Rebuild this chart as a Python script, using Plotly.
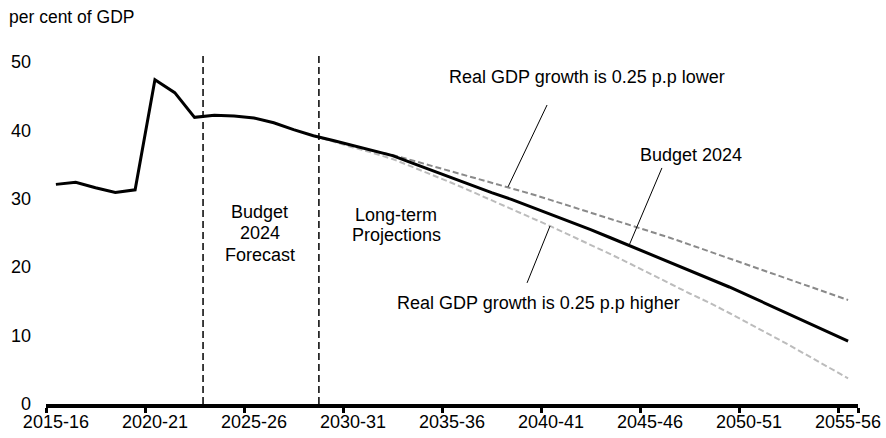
import numpy as np
import plotly.graph_objects as go

# Fiscal years 2015-16 .. 2055-56
years = [f"{y}-{str(y + 1)[-2:]}" for y in range(2015, 2056)]

# Federal debt, per cent of GDP
budget_2024 = [32.1, 32.4, 31.6, 30.9, 31.3, 47.4, 45.5, 41.9, 42.2, 42.1,
               41.8, 41.1, 40.1, 39.2, 38.5, 37.8, 37.0, 36.3, 35.2, 34.1,
               33.0, 32.0, 30.9, 29.9, 28.8, 27.8, 26.7, 25.5, 24.3, 23.1,
               21.9, 20.8, 19.6, 18.4, 17.1, 15.8, 14.5, 13.2, 11.9, 10.5, 9.2]

# Sensitivity scenarios start with the long-term projection (2028-29)
proj_start = 13
growth_lower = [39.2, 38.4, 37.7, 37.0, 36.4, 35.6, 34.8, 34.0, 33.2, 32.4,
                31.6, 30.7, 29.8, 28.9, 28.0, 27.1, 26.2, 25.2, 24.3, 23.3,
                22.3, 21.3, 20.3, 19.3, 18.3, 17.3, 16.3, 15.2]
growth_higher = [39.2, 38.3, 37.5, 36.7, 35.8, 34.65, 33.5, 32.3, 31.05, 29.8,
                 28.55, 27.25, 25.95, 24.6, 23.3, 21.9, 20.5, 19.1, 17.6, 16.15,
                 14.8, 13.3, 11.8, 10.2, 8.65, 7.05, 5.4, 3.75]

# Period separators (category index units)
forecast_start = 7.43
projection_start = 13.28

FONT = "Liberation Sans, Arial, sans-serif"
proj_years = years[proj_start:]


def value_at(series, first, pos):
    xs = np.arange(first, first + len(series))
    return float(np.interp(pos, xs, series))


fig = go.Figure()
fig.add_trace(go.Scatter(x=proj_years, y=growth_lower, mode="lines",
                         line=dict(color="#8a8a8a", width=2, dash="6px,3px"),
                         name="Real GDP growth is 0.25 p.p lower"))
fig.add_trace(go.Scatter(x=proj_years, y=growth_higher, mode="lines",
                         line=dict(color="#bcbcbc", width=2, dash="6px,3px"),
                         name="Real GDP growth is 0.25 p.p higher"))
fig.add_trace(go.Scatter(x=years, y=budget_2024, mode="lines",
                         line=dict(color="#000000", width=3),
                         name="Budget 2024"))

shapes = []
for xv in (forecast_start, projection_start):
    shapes.append(dict(type="line", xref="x", yref="paper", x0=xv, x1=xv,
                       y0=0, y1=1, line=dict(color="#000000", width=1.5,
                                             dash="7px,4px")))

# Leader lines from labels to their curves
leaders = [
    ((24.8, 43.7), (22.83, value_at(growth_lower, proj_start, 22.83))),
    ((30.6, 34.5), (28.94, value_at(budget_2024, 0, 28.94))),
    ((23.79, 17.7), (24.95, value_at(growth_higher, proj_start, 24.95))),
]
for (xa, ya), (xb, yb) in leaders:
    shapes.append(dict(type="line", xref="x", yref="y", x0=xa, y0=ya,
                       x1=xb, y1=yb, line=dict(color="#000000", width=1)))

annotations = [
    dict(text="per cent of GDP", xref="paper", yref="paper", x=-0.048,
         y=1.1026, xanchor="left", yanchor="middle", showarrow=False,
         font=dict(size=17.5)),
    dict(text="Real GDP growth is 0.25 p.p lower", x=26.8, y=47.85),
    dict(text="Budget 2024", x=32.07, y=36.4),
    dict(text="Real GDP growth is 0.25 p.p higher", x=24.37, y=14.77),
    dict(text="Budget", x=10.3, y=28.1),
    dict(text="2024", x=10.3, y=25.0),
    dict(text="Forecast", x=10.3, y=21.8),
    dict(text="Long-term", x=17.18, y=27.6),
    dict(text="Projections", x=17.18, y=24.7),
]
for a in annotations[1:]:
    a.update(xref="x", yref="y", xanchor="center", yanchor="middle",
             showarrow=False)

fig.update_layout(
    width=886, height=438,
    margin=dict(l=46, r=28, t=53, b=34, autoexpand=False),
    paper_bgcolor="#ffffff", plot_bgcolor="#ffffff",
    font=dict(family=FONT, size=18, color="#000000"),
    showlegend=False,
    shapes=shapes,
    annotations=annotations,
    xaxis=dict(type="category", categoryorder="array", categoryarray=years,
               range=[-0.5, len(years) - 0.5], automargin=False,
               tickmode="array", tickvals=years[::5], ticktext=years[::5],
               tickson="boundaries", ticks="outside", ticklen=5,
               tickwidth=2.5, tickcolor="#000000", tickangle=0,
               ticklabelstandoff=-2,
               showline=True, linewidth=4, linecolor="#000000",
               showgrid=False, zeroline=False,
               tickfont=dict(size=18)),
    yaxis=dict(range=[0, 51.3], tickmode="linear", tick0=0, dtick=10,
               automargin=False,
               showgrid=False, zeroline=False, showline=False, ticks="",
               ticklabelstandoff=14, tickfont=dict(size=18)),
)

fig.write_html("out.html")
